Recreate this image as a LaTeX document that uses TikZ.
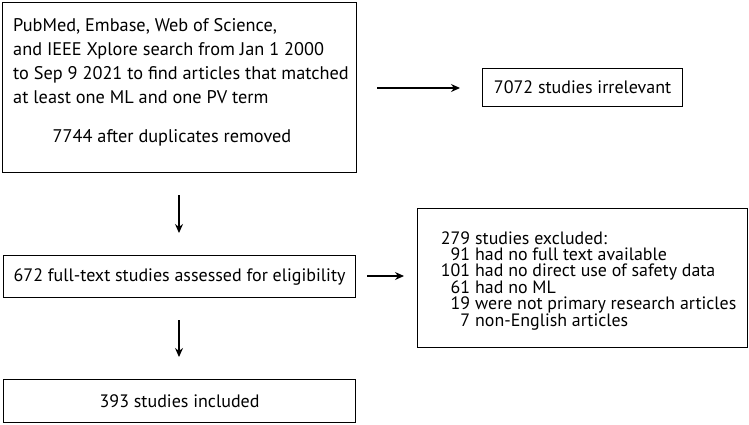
\documentclass[tikz,border=0pt]{standalone}
\usepackage{fontspec}
\setmainfont{PT Sans}
\usetikzlibrary{arrows.meta}
\newcommand{\numcol}[1]{\makebox[29pt][r]{#1}\hspace{5pt}}
\begin{document}
\begin{tikzpicture}[x=1pt,y=-1pt,
  box/.style={draw, line width=1.2pt, inner sep=0pt, anchor=north west},
  txt/.style={font=\fontsize{18.3}{24}\selectfont, inner sep=0pt},
  arr/.style={-{Stealth[length=9pt,width=8pt]}, line width=1.2pt}]
\useasboundingbox (0,0) rectangle (749,424);
% boxes
\node[box, minimum width=354pt, minimum height=170pt] (b1) at (2,2) {};
\node[box, minimum width=200pt, minimum height=38pt] (b2) at (482,68) {};
\node[box, minimum width=352pt, minimum height=42pt] (b3) at (3,255) {};
\node[box, minimum width=330pt, minimum height=139pt] (b4) at (417,208) {};
\node[box, minimum width=352pt, minimum height=43pt] (b5) at (3,379) {};
% texts
\node[txt, anchor=base west, align=left] (t1) at (13,103) {PubMed, Embase, Web of Science,\\and IEEE Xplore search from Jan 1 2000\\to Sep 9 2021 to find articles that matched\\at least one ML and one PV term};
\node[txt, anchor=base] (t1b) at (172,142) {7744 after duplicates removed};
\node[txt, font=\fontsize{18}{24}\selectfont] at (b2.center) {7072 studies irrelevant};
\node[txt, font=\fontsize{18}{24}\selectfont] at (b3.center) {672 full-text studies assessed for eligibility};
\node[txt, font=\fontsize{18}{24}\selectfont] at (b5.center) {393 studies included};
\node[txt, anchor=base west, align=left, font={\fontsize{17.9}{16.4}\selectfont\lineskiplimit=-20pt\relax}] (t4) at (441,326) {%
\numcol{279}studies excluded:\\
\numcol{91}had no full text available\\
\numcol{101}had no direct use of safety data\\
\numcol{61}had no ML\\
\numcol{19}were not primary research articles\\
\numcol{7}non-English articles};
% connectors
\coordinate (a1s) at (377,88);
\coordinate (a1e) at (460,88);
\draw[arr] (a1s) -- (a1e);
\coordinate (a2s) at (179,195);
\coordinate (a2e) at (179,233);
\draw[arr] (a2s) -- (a2e);
\coordinate (a3s) at (367,276);
\coordinate (a3e) at (404,276);
\draw[arr] (a3s) -- (a3e);
\coordinate (a4s) at (179,320);
\coordinate (a4e) at (179,357);
\draw[arr] (a4s) -- (a4e);
\end{tikzpicture}
\end{document}
